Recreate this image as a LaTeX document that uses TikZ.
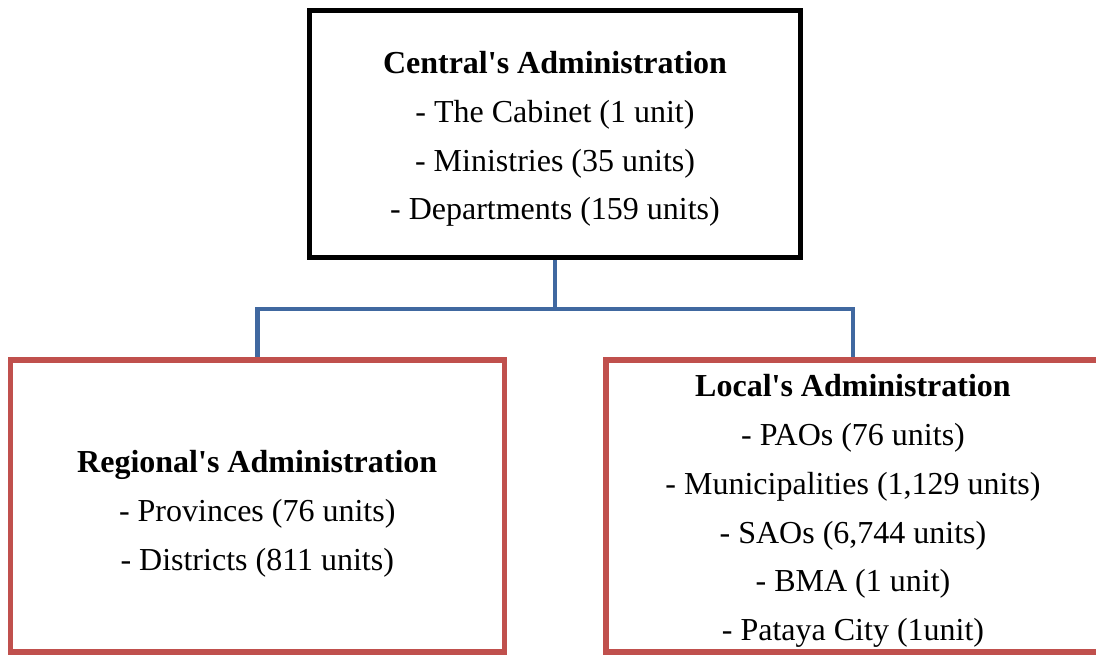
\documentclass[tikz,border=0pt]{standalone}
\usepackage{fontspec}
\setmainfont{Liberation Serif}
\usetikzlibrary{backgrounds}
\definecolor{linkblue}{RGB}{64,104,160}
\definecolor{boxred}{RGB}{192,80,77}
\newcommand{\ap}{\textquotesingle}
\begin{document}
\begin{tikzpicture}[x=0.5pt,y=-0.5pt,
  unitbox/.style={rectangle, inner sep=0pt, fill=white},
  centralbox/.style={unitbox, draw=black, line width=2.5pt,
    minimum width=245.5pt, minimum height=123.75pt},
  branchbox/.style={unitbox, draw=boxred, line width=2.75pt,
    minimum width=247pt, minimum height=146pt},
  listtext/.style={inner sep=0pt, align=center,
    font=\fontsize{16}{24.4}\selectfont},
  link/.style={draw=linkblue, line width=2.3pt}]
  \clip (0,0) rectangle (1096,655);

  % the three boxes
  \node[centralbox] (central) at (555,134) {};
  \node[branchbox] (regional) at (257.25,506) {};
  \node[branchbox] (local) at (853,506) {};

  % their contents
  \node[listtext] (central-text) at ([yshift=-2.5pt]central.center)
    {\textbf{Central\ap s Administration}\\
     - The Cabinet (1 unit)\\
     - Ministries (35 units)\\
     - Departments (159 units)};
  \node[listtext] (regional-text) at ([yshift=-4pt]regional.center)
    {\textbf{Regional\ap s Administration}\\
     - Provinces (76 units)\\
     - Districts (811 units)};
  \node[listtext] (local-text) at ([yshift=-2.5pt]local.center)
    {\textbf{Local\ap s Administration}\\
     - PAOs (76 units)\\
     - Municipalities (1,129 units)\\
     - SAOs (6,744 units)\\
     - BMA (1 unit)\\
     - Pataya City (1unit)};

  % branching connector behind the boxes
  \coordinate (bus) at (554,309);
  \begin{scope}[on background layer]
    \fill[white] (0,0) rectangle (1096,655);
    \draw[link] (central.south) -- (central.south |- bus) -| (regional.north);
    \draw[link] (central.south |- bus) -| (local.north);
  \end{scope}
\end{tikzpicture}
\end{document}
